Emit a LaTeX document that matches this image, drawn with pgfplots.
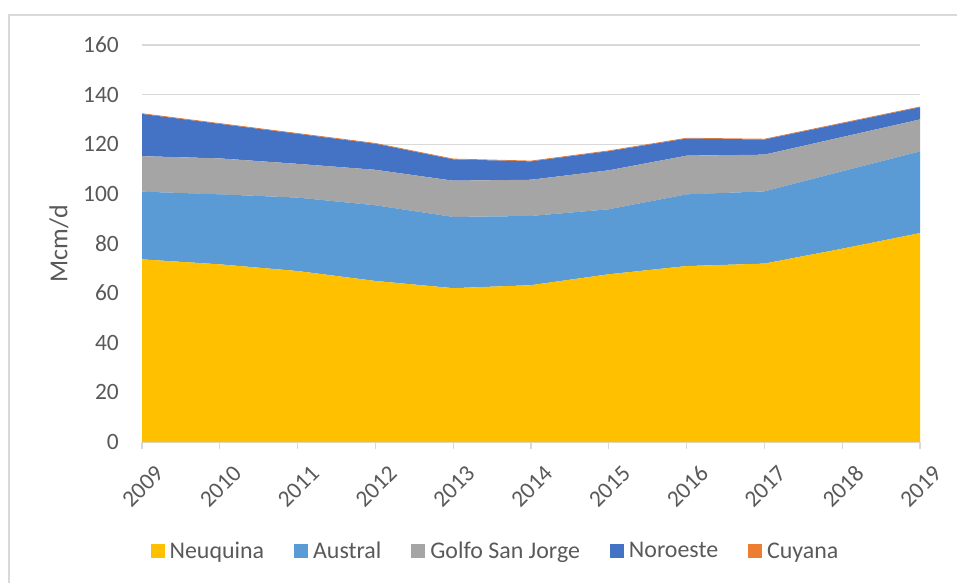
\documentclass[border=0pt]{standalone}
\usepackage{fontspec}
\setmainfont{Carlito}
\usepackage{pgfplots}
\usepackage{pgfplotstable}
\pgfplotsset{compat=1.18}
\definecolor{neu}{HTML}{FFC000}
\definecolor{aus}{HTML}{5B9BD5}
\definecolor{gsj}{HTML}{A5A5A5}
\definecolor{nor}{HTML}{4472C4}
\definecolor{cuy}{HTML}{ED7D31}
\definecolor{gridc}{HTML}{D9D9D9}
\definecolor{txt}{HTML}{595959}
\pgfplotstableread{
year neu aus gsj nor cuy
2009 73.6 27.3 14.3 17.0 0.3
2010 71.6 28.2 14.5 13.9 0.3
2011 68.9 29.6 13.6 12.1 0.3
2012 64.9 30.5 14.3 10.5 0.3
2013 62.0 28.7 14.6 8.6 0.3
2014 63.2 27.9 14.6 7.4 0.3
2015 67.6 26.2 15.7 7.7 0.3
2016 70.9 28.9 15.6 6.9 0.3
2017 71.9 29.1 14.8 6.1 0.3
2018 77.9 31.2 13.8 5.5 0.3
2019 84.2 32.9 12.9 4.9 0.3
}\gasdata
\begin{document}
\begin{tikzpicture}
\useasboundingbox (0bp,0bp) rectangle (957bp,583bp);
\draw[color=gridc, line width=1.3bp] (9bp,0bp) -- (9bp,568bp) -- (957bp,568bp);
\begin{axis}[
  at={(142bp,141bp)}, anchor=south west,
  scale only axis, width=778bp, height=397bp,
  xmin=2009, xmax=2019, ymin=0, ymax=160,
  xtick={2009,2010,...,2019}, ytick={0,20,...,160},
  stack plots=y,
  separate axis lines,
  axis x line*=bottom, axis y line*=left,
  x axis line style={-, color=gridc, line width=1.3bp},
  y axis line style={draw=none},
  ymajorgrids, grid style={color=gridc, line width=1.3bp},
  xtick style={color=gridc, line width=1.3bp},
  xtick align=outside, major tick length=7bp,
  ytick style={draw=none},
  /pgf/number format/1000 sep={},
  /pgf/number format/assume math mode=true,
  tick label style={font=\fontsize{23.5}{27}\selectfont, text=txt},
  yticklabel style={anchor=east, inner sep=0pt, xshift=-23bp},
  xticklabel style={rotate=45, anchor=east, inner sep=0pt, yshift=-27bp, xshift=-2bp},
  ylabel={Mcm/d},
  ylabel style={at={(axis description cs:-0.1067,0.5)}, anchor=center, font=\fontsize{26}{30}\selectfont, text=txt},
  legend columns=5,
  legend style={at={(axis description cs:0.4544,-0.2746)}, anchor=center, draw=none, fill=none,
    font=\fontsize{24}{28}\selectfont, text=txt,
    /tikz/every odd column/.append style={column sep=3bp},
    /tikz/every even column/.append style={column sep=28bp}},
  legend cell align=left,
  legend image code/.code={\fill[#1,draw=none] (0bp,-7bp) rectangle (14bp,7bp);},
  axis on top=false,
  clip=false,
]
\addplot[fill=neu, draw=none] table[x=year,y=neu]{\gasdata} \closedcycle;
\addlegendentry{Neuquina}
\addplot[fill=aus, draw=none] table[x=year,y=aus]{\gasdata} \closedcycle;
\addlegendentry{Austral}
\addplot[fill=gsj, draw=none] table[x=year,y=gsj]{\gasdata} \closedcycle;
\addlegendentry{Golfo San Jorge}
\addplot[fill=nor, draw=none] table[x=year,y=nor]{\gasdata} \closedcycle;
\addlegendentry{Noroeste}
\addplot[fill=cuy, draw=none] table[x=year,y=cuy]{\gasdata} \closedcycle;
\addlegendentry{Cuyana}
\end{axis}
\end{tikzpicture}
\end{document}
